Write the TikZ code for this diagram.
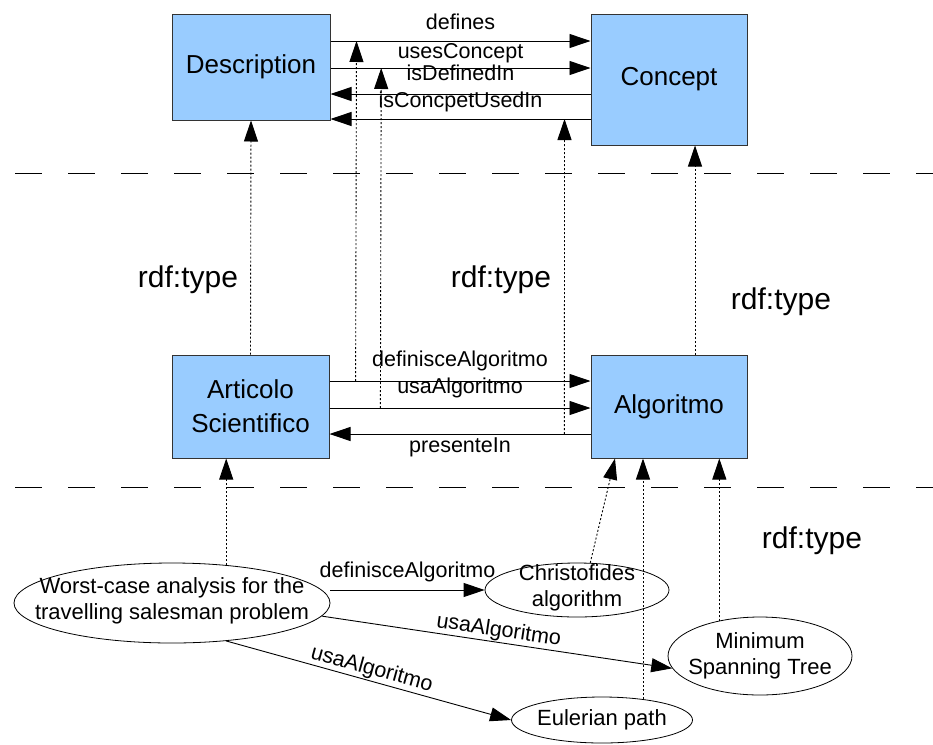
\documentclass[tikz,border=0pt]{standalone}
\usepackage{fontspec}
\setmainfont{Liberation Sans}
\usetikzlibrary{arrows.meta}
\usetikzlibrary{shapes.geometric}
\definecolor{boxblue}{HTML}{99CCFF}
\definecolor{boxline}{HTML}{333333}

\begin{document}
\begin{tikzpicture}[x=1pt, y=-1pt,
	cls/.style={draw=boxline, fill=boxblue, line width=1pt, align=center, inner sep=0pt, font=\fontsize{26}{34}\selectfont},
	inst/.style={draw, ellipse, line width=0.8pt, inner sep=0pt},
	inlbl/.style={align=center, font=\fontsize{22}{26}\selectfont},
	prop/.style={-{Triangle[length=21pt,width=14pt]}, line width=0.9pt},
	typeof/.style={prop, dash pattern=on 2pt off 2pt},
	lbl/.style={font=\fontsize{21.5}{26}\selectfont, inner sep=1pt},
	rdf/.style={font=\fontsize{30}{32}\selectfont, inner sep=0pt},
	sep/.style={line width=1pt, dash pattern=on 27pt off 26pt}]
	\useasboundingbox (0,0) rectangle (933,744);

	% Levels
	\coordinate (s1) at (15,173);
	\coordinate (s2) at (15,487);
	\draw[sep] (s1) -- (s1 -| 933,0);
	\draw[sep] (s2) -- (s2 -| 933,0);

	% Classes
	\node[cls, minimum width=158pt, minimum height=106pt] (desc) at (251,67) {Description};
	\node[cls, minimum width=156pt, minimum height=131pt] (concept) at (669,79.5) {Concept};
	\node[cls, minimum width=157pt, minimum height=103pt] (articolo) at (250.5,406.5) {Articolo\\Scientifico};
	\node[cls, minimum width=156pt, minimum height=103pt] (algoritmo) at (669,406.5) {Algoritmo};

	% Instances
	\node[inst, minimum width=316pt, minimum height=80pt, label={[inlbl, yshift=2pt]center:Worst-case analysis for the\\travelling salesman problem}] (worst) at (172,603) {};
	\node[inst, minimum width=184pt, minimum height=54pt, label={[inlbl, yshift=2pt]center:Christofides\\algorithm}] (christo) at (577,590) {};
	\node[inst, minimum width=184pt, minimum height=78pt, label={[inlbl]center:Minimum\\Spanning Tree}] (mst) at (760,656) {};
	\node[inst, minimum width=181pt, minimum height=46pt, label={[inlbl]center:Eulerian path}] (euler) at (602,720) {};

	% Upper properties
	\draw[prop] (desc.east |- 0,41) -- coordinate[pos=0.1] (defT) node[lbl, midway, anchor=base, yshift=12pt] {defines} (concept.west |- 0,41);
	\draw[prop] (desc.east |- 0,68) -- coordinate[pos=0.195] (useT) node[lbl, midway, anchor=base, yshift=10pt] {usesConcept} (concept.west |- 0,68);
	\draw[prop] (concept.west |- 0,94) -- node[lbl, midway, anchor=base, yshift=14pt] {isDefinedIn} (desc.east |- 0,94);
	\draw[prop] (concept.west |- 0,119) -- coordinate[pos=0.1] (preT) node[lbl, midway, anchor=base, yshift=12pt] {isConcpetUsedIn} (desc.east |- 0,119);

	% Lower properties
	\draw[prop] (articolo.east |- 0,381) -- coordinate[pos=0.1] (defM) node[lbl, midway, anchor=base, yshift=15pt] {definisceAlgoritmo} (algoritmo.west |- 0,381);
	\draw[prop] (articolo.east |- 0,408) -- coordinate[pos=0.195] (useM) node[lbl, midway, anchor=base, yshift=15pt] {usaAlgoritmo} (algoritmo.west |- 0,408);
	\draw[prop] (algoritmo.west |- 0,434) -- coordinate[pos=0.1] (preM) node[lbl, midway, anchor=base, yshift=-18pt] {presenteIn} (articolo.east |- 0,434);

	% Property types
	\draw[typeof] (defM) -- (defT);
	\draw[typeof] (useM) -- (useT);
	\draw[typeof] (preM) -- (preT);

	% Class types
	\draw[typeof] (articolo.north) -- (desc.south);
	\draw[typeof] (695,0 |- algoritmo.north) -- (695,0 |- concept.south);

	% Instance types
	\draw[typeof] (worst.35) -- (worst.35 |- articolo.south);
	\draw[typeof] (christo.64) -- (615,0 |- algoritmo.south);
	\draw[typeof] (euler.27) -- (euler.27 |- algoritmo.south);
	\draw[typeof] (mst.139) -- (mst.139 |- algoritmo.south);

	% Instance properties
	\draw[prop] (worst.east |- christo.west) -- node[lbl, anchor=base, yshift=13pt] {definisceAlgoritmo} (christo.west);
	\draw[prop] (worst.-5) -- node[lbl, sloped, above] {usaAlgoritmo} (mst.188);
	\draw[prop] (worst.-35) -- node[lbl, sloped, above] {usaAlgoritmo} (euler.west);

	\foreach \n/\px/\py in {1/188/280, 2/501/280, 3/781/302, 4/812/541}
		\node[rdf] (rdf\n) at (\px,\py) {rdf:type};
\end{tikzpicture}
\end{document}
